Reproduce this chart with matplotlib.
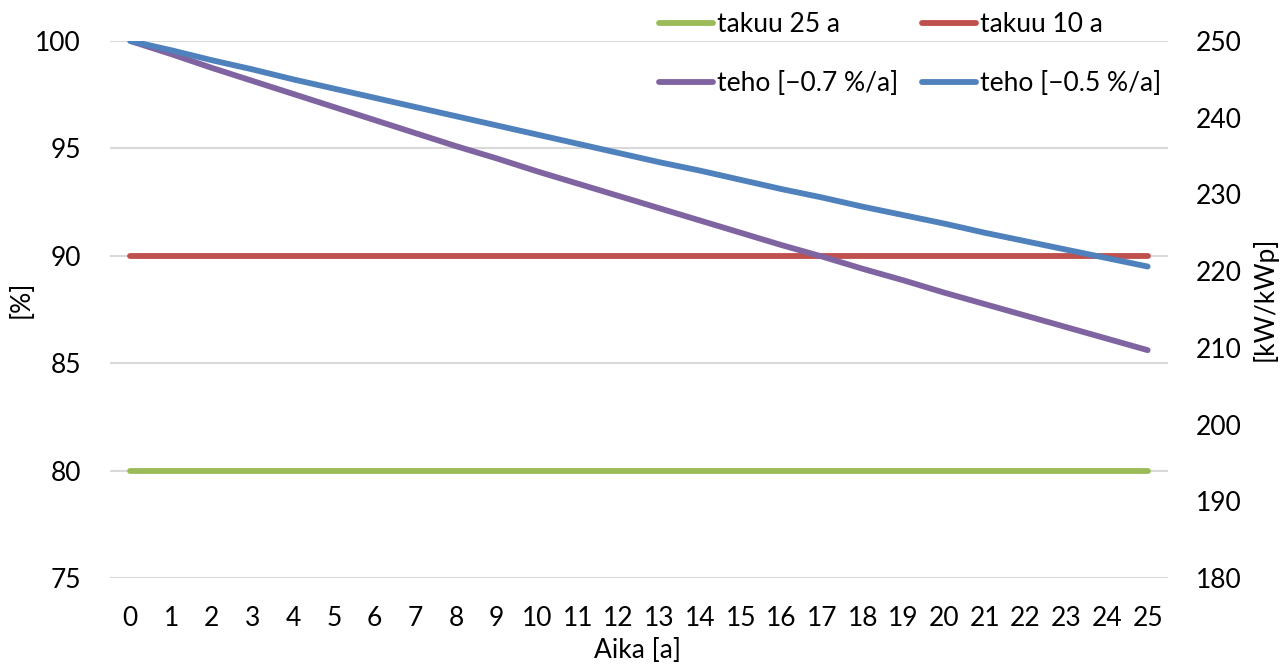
import matplotlib
matplotlib.use("Agg")
import matplotlib.pyplot as plt
from matplotlib.lines import Line2D

plt.rcParams['font.family'] = ['Lato', 'DejaVu Sans']

# Years
years = list(range(0, 26))

# Warranty levels, percent of nominal power (left axis)
takuu_25 = [80] * 26
takuu_10 = [90] * 26

# Module power over time, kW/kWp (right axis)
teho_07 = [250.0, 248.3, 246.5, 244.8, 243.1, 241.4, 239.7, 238.0, 236.3,
           234.7, 233.0, 231.4, 229.8, 228.2, 226.6, 225.0, 223.4, 221.9,
           220.3, 218.8, 217.2, 215.7, 214.2, 212.7, 211.2, 209.7]
teho_05 = [250.0, 248.8, 247.5, 246.3, 245.0, 243.8, 242.6, 241.4, 240.2,
           239.0, 237.8, 236.6, 235.4, 234.2, 233.1, 231.9, 230.7, 229.6,
           228.4, 227.3, 226.2, 225.0, 223.9, 222.8, 221.7, 220.6]

labels = ["takuu 25 a", "takuu 10 a", "teho [\u22120.7 %/a]", "teho [\u22120.5 %/a]"]
colors = ["#9BBB59", "#C0504D", "#8064A2", "#4F81BD"]

left_ticks = [75, 80, 85, 90, 95, 100]
right_ticks = [180, 190, 200, 210, 220, 230, 240, 250]

fs = 19
lw = 4.2

W, H = 1287, 665
fig = plt.figure(figsize=(W / 100, H / 100), dpi=100)
ax = fig.add_axes([110 / W, 1 - 578 / H, 1058 / W, 537 / H])
ax2 = ax.twinx()

ax.plot(years, takuu_25, color=colors[0], lw=lw, solid_capstyle='round', zorder=3)
ax.plot(years, takuu_10, color=colors[1], lw=lw, solid_capstyle='round', zorder=3)
ax2.plot(years, teho_07, color=colors[2], lw=lw, solid_capstyle='round', zorder=3)
ax2.plot(years, teho_05, color=colors[3], lw=lw, solid_capstyle='round', zorder=3)

ax.set_xlim(-0.5, 25.5)
ax.set_ylim(75, 100)
ax2.set_ylim(180, 250)
ax.set_xticks(years)
ax.set_xticklabels([str(y) for y in years])
ax.set_yticks(left_ticks)
ax2.set_yticks(right_ticks)

ax.yaxis.grid(True, color="#D9D9D9", lw=1.5)
ax.set_axisbelow(True)

for a in (ax, ax2):
    for s in a.spines.values():
        s.set_visible(False)
    a.tick_params(length=0, labelsize=fs, colors="black")

ax.tick_params(axis='y', pad=21)
ax2.tick_params(axis='y', pad=20)
ax.tick_params(axis='x', pad=20)

# Axis titles placed in figure coordinates
fig.text(21 / W, 1 - 299 / H, "[%]", fontsize=fs, rotation=90, ha='center', va='center')
fig.text(1265 / W, 1 - 299 / H, "[kW/kWp]", fontsize=fs, rotation=90, ha='center', va='center')
fig.text(637 / W, 1 - 651 / H, "Aika [a]", fontsize=fs, ha='center', va='center')

# Legend filled row by row: row 1 = warranties, row 2 = power curves
handles = [Line2D([0], [0], color=c, lw=lw, solid_capstyle='round') for c in colors]
order = [0, 2, 1, 3]
fig.legend([handles[i] for i in order], [labels[i] for i in order], ncol=2,
           loc='upper left', bbox_to_anchor=(659 / W, 1 - 12 / H), frameon=False,
           fontsize=fs, handlelength=2.05, handletextpad=0.15,
           columnspacing=0.9, labelspacing=1.28, borderpad=0, borderaxespad=0)

fig.savefig("out.png", dpi=100)
